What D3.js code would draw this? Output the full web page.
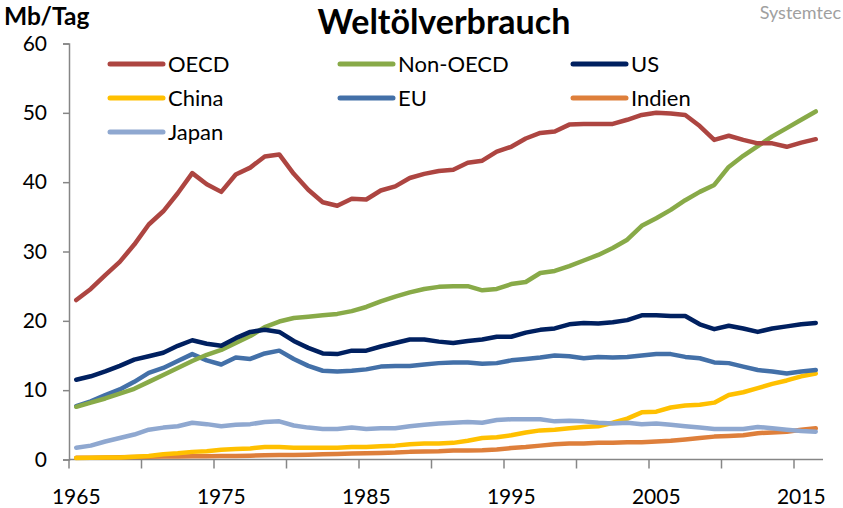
<!DOCTYPE html>
<html lang="de">
<head>
    <meta charset="UTF-8">
    <script src="https://d3js.org/d3.v7.min.js"></script>
    <title>Weltölverbrauch</title>
    <style>
        body { margin: 0; background: #fff; }
        text { font-family: Lato, "Open Sans", sans-serif; }
    </style>
</head>
<body>
<div id="chart"></div>
<script>
    // Jahre 1965 - 2016, Werte in Mb/Tag
    var years = d3.range(1965, 2017);
    var oecd = [23.0,24.6,26.6,28.5,31.0,33.9,35.8,38.4,41.3,39.7,38.6,41.1,42.1,43.7,44.0,41.2,38.9,37.1,36.6,37.6,
        37.5,38.8,39.4,40.6,41.2,41.6,41.8,42.8,43.1,44.4,45.1,46.3,47.1,47.3,48.3,48.4,48.4,48.4,49.0,49.7,
        50.0,49.9,49.7,48.1,46.1,46.7,46.1,45.6,45.6,45.1,45.7,46.2];
    var nonOecd = [7.6,8.2,8.8,9.5,10.2,11.2,12.2,13.2,14.2,15.1,15.8,16.8,17.8,19.1,19.9,20.4,20.6,20.8,21.0,21.4,
        22.0,22.8,23.5,24.1,24.6,24.9,25.0,25.0,24.4,24.6,25.3,25.6,26.9,27.2,27.9,28.7,29.5,30.5,31.7,33.7,
        34.8,36.0,37.4,38.6,39.6,42.2,43.8,45.2,46.6,47.8,49.0,50.2];
    var us = [11.5,12.0,12.7,13.5,14.4,14.9,15.4,16.4,17.2,16.7,16.4,17.5,18.4,18.7,18.4,17.1,16.1,15.3,15.2,15.7,
        15.7,16.3,16.8,17.3,17.3,17.0,16.8,17.1,17.3,17.7,17.7,18.3,18.7,18.9,19.5,19.7,19.6,19.8,20.1,20.8,
        20.8,20.7,20.7,19.5,18.8,19.3,18.9,18.4,18.9,19.2,19.5,19.7];
    var china = [0.2,0.25,0.3,0.3,0.4,0.5,0.75,0.9,1.1,1.2,1.4,1.5,1.6,1.8,1.8,1.7,1.7,1.7,1.7,1.8,
        1.8,1.9,2.0,2.2,2.3,2.3,2.4,2.7,3.1,3.2,3.5,3.9,4.2,4.3,4.5,4.7,4.8,5.3,5.9,6.8,
        6.9,7.5,7.8,7.9,8.2,9.3,9.7,10.3,10.9,11.4,12.0,12.4];
    var eu = [7.7,8.4,9.3,10.1,11.2,12.5,13.2,14.2,15.2,14.3,13.7,14.7,14.5,15.3,15.7,14.5,13.5,12.8,12.7,12.8,
        13.0,13.4,13.5,13.5,13.7,13.9,14.0,14.0,13.8,13.9,14.3,14.5,14.7,15.0,14.9,14.6,14.8,14.7,14.8,15.0,
        15.2,15.2,14.8,14.6,14.0,13.9,13.4,12.9,12.7,12.4,12.7,12.9];
    var indien = [0.25,0.27,0.3,0.33,0.37,0.4,0.42,0.45,0.48,0.48,0.5,0.52,0.55,0.6,0.65,0.65,0.7,0.75,0.8,0.85,
        0.9,0.95,1.0,1.1,1.15,1.2,1.3,1.3,1.35,1.45,1.65,1.8,2.0,2.2,2.3,2.3,2.4,2.4,2.5,2.5,
        2.6,2.7,2.9,3.1,3.3,3.4,3.5,3.8,3.9,4.0,4.3,4.5];
    var japan = [1.7,2.0,2.6,3.1,3.6,4.3,4.6,4.8,5.3,5.1,4.8,5.0,5.1,5.4,5.5,4.9,4.6,4.4,4.4,4.6,
        4.4,4.5,4.5,4.8,5.0,5.2,5.3,5.4,5.3,5.7,5.8,5.8,5.8,5.5,5.6,5.5,5.3,5.2,5.3,5.1,
        5.2,5.0,4.8,4.6,4.4,4.4,4.4,4.7,4.5,4.3,4.1,4.0];
    var yTicks = [0, 10, 20, 30, 40, 50, 60];
    var xLabels = [1965, 1975, 1985, 1995, 2005, 2015];

    var series = [
        {name: "OECD", values: oecd, color: "#AD4541"},
        {name: "Non-OECD", values: nonOecd, color: "#88AA48"},
        {name: "US", values: us, color: "#002060"},
        {name: "China", values: china, color: "#FFC000"},
        {name: "EU", values: eu, color: "#4370A8"},
        {name: "Indien", values: indien, color: "#DE7F3B"},
        {name: "Japan", values: japan, color: "#8FA8D0"}
    ];

    var canvasWidth = 843, canvasHeight = 508;
    var svg = d3.select("#chart").append("svg")
        .attr("width", canvasWidth)
        .attr("height", canvasHeight);

    var xScale = d3.scaleBand().domain(years).range([69, 823]).padding(0);
    var yScale = d3.scaleLinear().domain([0, 60]).range([459.5, 43.5]);
    var bw = xScale.bandwidth();

    // Titel
    svg.append("text")
        .attr("x", 444).attr("y", 34)
        .attr("text-anchor", "middle")
        .attr("font-size", "34px").attr("font-weight", "bold")
        .text("Weltölverbrauch");
    svg.append("text")
        .attr("x", 4).attr("y", 25)
        .attr("font-size", "24.5px").attr("font-weight", "bold")
        .text("Mb/Tag");
    svg.append("text")
        .attr("x", 841).attr("y", 19)
        .attr("text-anchor", "end")
        .attr("font-size", "18px").attr("fill", "#a0a0a0")
        .text("Systemtec");

    // y-Achse
    var yAxis = svg.append("g")
        .attr("transform", "translate(69,0)")
        .call(d3.axisLeft(yScale).tickValues(yTicks).tickSize(6).tickPadding(16));
    yAxis.selectAll("line, path").attr("stroke", "#868686").attr("stroke-width", 1.5);
    yAxis.selectAll("text").attr("font-size", "21px").attr("fill", "#000")
        .attr("font-family", "Lato, sans-serif");

    // x-Achse: Striche an den Kategoriegrenzen, Beschriftung mittig
    var xg = svg.append("g").attr("transform", "translate(0,459.5)");
    xg.append("line").attr("x1", 69).attr("x2", 823)
        .attr("stroke", "#868686").attr("stroke-width", 1.5);
    xg.selectAll(".xtick").data(years.filter(function(d){ return (d - 1965) % 5 === 0; }))
        .enter().append("line").attr("class", "xtick")
        .attr("x1", function(d){ return xScale(d); })
        .attr("x2", function(d){ return xScale(d); })
        .attr("y1", 0).attr("y2", 9)
        .attr("stroke", "#868686").attr("stroke-width", 1.5);
    xg.selectAll(".xlab").data(xLabels).enter().append("text").attr("class", "xlab")
        .attr("x", function(d){ return xScale(d) + bw / 2; })
        .attr("y", 44)
        .attr("text-anchor", "middle")
        .attr("font-size", "21px")
        .text(function(d){ return d; });

    // Linien
    var line = d3.line()
        .x(function(d, i){ return xScale(years[i]) + bw / 2; })
        .y(function(d){ return yScale(d); });
    // Zeichenreihenfolge: unten liegende zuerst
    var order = ["Indien", "China", "Japan", "EU", "Non-OECD", "US", "OECD"];
    order.forEach(function(n){
        var s = series.find(function(d){ return d.name === n; });
        svg.append("path")
            .attr("d", line(s.values))
            .attr("fill", "none")
            .attr("stroke", s.color)
            .attr("stroke-width", 4.5)
            .attr("stroke-linejoin", "round")
            .attr("stroke-linecap", "round");
    });

    // Legende
    var legX = [110, 340, 573], legY = [64, 98, 132];
    var leg = svg.selectAll(".leg").data(series).enter().append("g").attr("class", "leg")
        .attr("transform", function(d, i){
            return "translate(" + legX[i % 3] + "," + legY[Math.floor(i / 3)] + ")";
        });
    leg.append("line").attr("x1", 0).attr("x2", 53)
        .attr("stroke", function(d){ return d.color; })
        .attr("stroke-width", 5).attr("stroke-linecap", "round");
    leg.append("text").attr("x", 58).attr("y", 8)
        .attr("font-size", "22px")
        .text(function(d){ return d.name; });
</script>
</body>
</html>
